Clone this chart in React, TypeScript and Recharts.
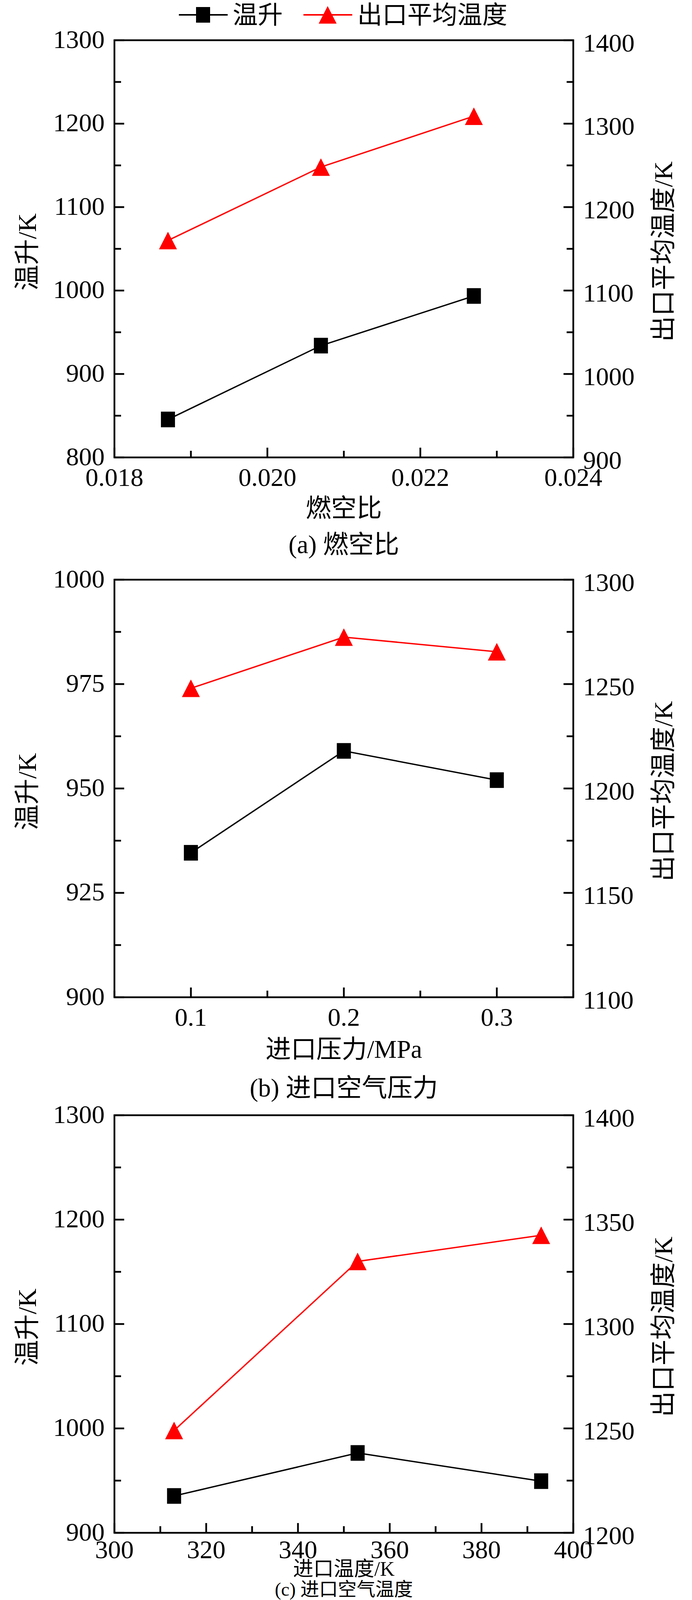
import React from 'react';
import { LineChart, Line, XAxis, YAxis, ReferenceArea, Legend } from 'recharts';

// ---------------- data ----------------
const seriesRise = '温升';
const seriesOutlet = '出口平均温度';
const legendOrder = ['rise', 'outlet'];

// (a) fuel-air ratio
const fuelAirRatio = [0.0187, 0.0207, 0.0227];
const riseA = [845.5, 934, 993.5];
const outletA = [1160, 1248, 1309];

// (b) inlet pressure
const inletPressure = [0.1, 0.2, 0.3];
const riseB = [934.6, 959, 952];
const outletB = [1248, 1272.5, 1265.5];

// (c) inlet temperature
const inletTemp = [313, 353, 393];
const riseC = [935.3, 976.5, 949.5];
const outletC = [1249, 1330, 1342.5];

// ---------------- ticks ----------------
const xTicksA = [0.018, 0.019, 0.02, 0.021, 0.022, 0.023, 0.024];
const xLabelsA = [0.018, 0.02, 0.022, 0.024];
const lTicksA = [800, 850, 900, 950, 1000, 1050, 1100, 1150, 1200, 1250, 1300];
const lLabelsA = [800, 900, 1000, 1100, 1200, 1300];
const rTicksA = [900, 950, 1000, 1050, 1100, 1150, 1200, 1250, 1300, 1350, 1400];
const rLabelsA = [900, 1000, 1100, 1200, 1300, 1400];

const xTicksB = [0.05, 0.1, 0.15, 0.2, 0.25, 0.3, 0.35];
const xLabelsB = [0.1, 0.2, 0.3];
const lTicksB = [900, 912.5, 925, 937.5, 950, 962.5, 975, 987.5, 1000];
const lLabelsB = [900, 925, 950, 975, 1000];
const rTicksB = [1100, 1125, 1150, 1175, 1200, 1225, 1250, 1275, 1300];
const rLabelsB = [1100, 1150, 1200, 1250, 1300];

const xTicksC = [300, 310, 320, 330, 340, 350, 360, 370, 380, 390, 400];
const xLabelsC = [300, 320, 340, 360, 380, 400];
const lTicksC = [900, 950, 1000, 1050, 1100, 1150, 1200, 1250, 1300];
const lLabelsC = [900, 1000, 1100, 1200, 1300];
const rTicksC = [1200, 1225, 1250, 1275, 1300, 1325, 1350, 1375, 1400];
const rLabelsC = [1200, 1250, 1300, 1350, 1400];

// ---------------- styles ----------------
const W = 1772;
const PLOT_LEFT = 293;
const PLOT_RIGHT = 1468;
const SERIF = "'Liberation Serif', 'Times New Roman', serif";
const MIXED = "'Liberation Serif', 'Noto Sans CJK SC', serif";
const TICK_FONT = 66;
const ROT_FONT = 66;
const LEGEND_FONT = 64;
const MAJOR = 25;
const MINOR = 17;
const TICK_W = 4.5;
const RED = '#ff0000';

const isIn = (arr: number[], v: number) => arr.some((a) => Math.abs(a - v) < 1e-9);

function makeLeftTick(labels: number[]) {
  return (props: any) => {
    const { x, y, payload, index } = props;
    const major = isIn(labels, payload.value);
    return (
      <g key={`lt-${index}`}>
        <line x1={x} x2={x + (major ? MAJOR : MINOR)} y1={y} y2={y} stroke="#000" strokeWidth={TICK_W} />
        {major && (
          <text x={x - 25} y={y - 3} textAnchor="end" dominantBaseline="central" fontFamily={SERIF} fontSize={TICK_FONT} fill="#000">
            {String(payload.value)}
          </text>
        )}
      </g>
    );
  };
}

function makeRightTick(labels: number[]) {
  return (props: any) => {
    const { x, y, payload, index } = props;
    const major = isIn(labels, payload.value);
    return (
      <g key={`rt-${index}`}>
        <line x1={x} x2={x - (major ? MAJOR : MINOR)} y1={y} y2={y} stroke="#000" strokeWidth={TICK_W} />
        {major && (
          <text x={x + 25} y={y + 6} textAnchor="start" dominantBaseline="central" fontFamily={SERIF} fontSize={TICK_FONT} fill="#000">
            {String(payload.value)}
          </text>
        )}
      </g>
    );
  };
}

function makeBottomTick(labels: number[], fmt: (v: number) => string, offset: number) {
  return (props: any) => {
    const { x, y, payload, index } = props;
    const major = isIn(labels, payload.value);
    return (
      <g key={`bt-${index}`}>
        <line x1={x} x2={x} y1={y} y2={y - (major ? MAJOR : MINOR)} stroke="#000" strokeWidth={TICK_W} />
        {major && (
          <text x={x} y={y + offset} textAnchor="middle" dominantBaseline="central" fontFamily={SERIF} fontSize={TICK_FONT} fill="#000">
            {fmt(payload.value)}
          </text>
        )}
      </g>
    );
  };
}

const SquareDot = (p: any) => {
  if (p.cx == null || p.cy == null) return <g key={`sq-${p.index}`} />;
  return <rect key={`sq-${p.index}`} x={p.cx - 18} y={p.cy - 20} width={36} height={40} fill="#000" />;
};

const TriDot = (p: any) => {
  if (p.cx == null || p.cy == null) return <g key={`tr-${p.index}`} />;
  const { cx, cy } = p;
  return (
    <polygon
      key={`tr-${p.index}`}
      points={`${cx},${cy - 22.5} ${cx - 23},${cy + 22.5} ${cx + 23},${cy + 22.5}`}
      fill={RED}
    />
  );
};

const renderLegend = (props: any) => {
  const payload = [...(props.payload || [])].sort(
    (a: any, b: any) => legendOrder.indexOf(String(a.dataKey)) - legendOrder.indexOf(String(b.dataKey))
  );
  let x = 458;
  const cy = 38;
  const items: React.ReactNode[] = [];
  payload.forEach((item: any, i: number) => {
    const name = String(item.value);
    const isRise = String(item.dataKey) === 'rise';
    const color = item.color || (isRise ? '#000' : RED);
    const mx = x + 62;
    items.push(
      <g key={`lg-${i}`}>
        <line x1={x} x2={x + 125} y1={cy} y2={cy} stroke={color} strokeWidth={4} />
        {isRise ? (
          <rect x={mx - 18} y={cy - 20} width={36} height={40} fill="#000" />
        ) : (
          <polygon points={`${mx},${cy - 22.5} ${mx - 23},${cy + 22.5} ${mx + 23},${cy + 22.5}`} fill={RED} />
        )}
        <text x={x + 138} y={cy} dominantBaseline="central" fontFamily={MIXED} fontSize={LEGEND_FONT} fill="#000">
          {name}
        </text>
      </g>
    );
    x = x + 138 + name.length * LEGEND_FONT + 53;
  });
  return (
    <svg width={W} height={80} style={{ display: 'block' }}>
      {items}
    </svg>
  );
};

type PanelCfg = {
  top: number;
  height: number;
  plotTop: number;
  plotBottom: number;
  xs: number[];
  rise: number[];
  outlet: number[];
  xDomain: [number, number];
  xTicks: number[];
  xLabels: number[];
  xFmt: (v: number) => string;
  xTickOffset: number;
  lDomain: [number, number];
  lTicks: number[];
  lLabels: number[];
  rDomain: [number, number];
  rTicks: number[];
  rLabels: number[];
  xTitle: string;
  xTitleOffset: number;
  xTitleFont: number;
  caption: string;
  captionOffset: number;
  captionFont: number;
  legend: boolean;
};

function Panel({ cfg }: { cfg: PanelCfg }) {
  const data = cfg.xs.map((x, i) => ({ x, rise: cfg.rise[i], outlet: cfg.outlet[i] }));
  // axes have 1px width/height so that they render; compensate in margins
  const margin = {
    top: cfg.plotTop,
    bottom: cfg.height - cfg.plotBottom - 1,
    left: PLOT_LEFT - 1,
    right: W - PLOT_RIGHT - 1,
  };

  const xLabel = (p: any) => {
    const vb = p.viewBox || {};
    const cx = vb.x + vb.width / 2;
    const y0 = vb.y;
    return (
      <g>
        <text x={cx} y={y0 + cfg.xTitleOffset} textAnchor="middle" dominantBaseline="central" fontFamily={MIXED} fontSize={cfg.xTitleFont} fill="#000">
          {cfg.xTitle}
        </text>
        <text x={cx} y={y0 + cfg.captionOffset} textAnchor="middle" dominantBaseline="central" fontFamily={MIXED} fontSize={cfg.captionFont} fill="#000">
          {cfg.caption}
        </text>
      </g>
    );
  };

  const leftLabel = (p: any) => {
    const vb = p.viewBox || {};
    const cx = vb.x + vb.width - 224;
    const cy = vb.y + vb.height / 2 + 8;
    return (
      <text x={cx} y={cy} transform={`rotate(-90, ${cx}, ${cy})`} textAnchor="middle" dominantBaseline="central" fontFamily={MIXED} fontSize={ROT_FONT} fill="#000">
        温升/K
      </text>
    );
  };

  const rightLabel = (p: any) => {
    const vb = p.viewBox || {};
    const cx = vb.x + 230;
    const cy = vb.y + vb.height / 2 + 7;
    return (
      <text x={cx} y={cy} transform={`rotate(-90, ${cx}, ${cy})`} textAnchor="middle" dominantBaseline="central" fontFamily={MIXED} fontSize={ROT_FONT} fill="#000">
        出口平均温度/K
      </text>
    );
  };

  return (
    <div style={{ position: 'absolute', left: 0, top: cfg.top, width: W, height: cfg.height }}>
      <LineChart width={W} height={cfg.height} data={data} margin={margin}>
        <XAxis
          dataKey="x"
          type="number"
          domain={cfg.xDomain}
          ticks={cfg.xTicks}
          interval={0}
          allowDataOverflow
          height={1}
          tickSize={0}
          tickMargin={0}
          tickLine={false}
          axisLine={false}
          tick={makeBottomTick(cfg.xLabels, cfg.xFmt, cfg.xTickOffset)}
          label={{ content: xLabel }}
        />
        <YAxis
          yAxisId="left"
          orientation="left"
          type="number"
          domain={cfg.lDomain}
          ticks={cfg.lTicks}
          interval={0}
          allowDataOverflow
          width={1}
          tickSize={0}
          tickMargin={0}
          tickLine={false}
          axisLine={false}
          tick={makeLeftTick(cfg.lLabels)}
          label={{ content: leftLabel }}
        />
        <YAxis
          yAxisId="right"
          orientation="right"
          type="number"
          domain={cfg.rDomain}
          ticks={cfg.rTicks}
          interval={0}
          allowDataOverflow
          width={1}
          tickSize={0}
          tickMargin={0}
          tickLine={false}
          axisLine={false}
          tick={makeRightTick(cfg.rLabels)}
          label={{ content: rightLabel }}
        />
        <ReferenceArea
          yAxisId="left"
          x1={cfg.xDomain[0]}
          x2={cfg.xDomain[1]}
          y1={cfg.lDomain[0]}
          y2={cfg.lDomain[1]}
          fill="none"
          fillOpacity={0}
          stroke="#000"
          strokeWidth={4.5}
          ifOverflow="visible"
        />
        {cfg.legend && (
          <Legend
            layout="horizontal"
            verticalAlign="middle"
            align="center"
            itemSorter={null as any}
            wrapperStyle={{ top: 0, left: 0, width: W, height: 80 }}
            content={renderLegend}
          />
        )}
        <Line
          yAxisId="left"
          type="linear"
          dataKey="rise"
          name={seriesRise}
          stroke="#000"
          strokeWidth={3.5}
          dot={SquareDot}
          activeDot={false}
          isAnimationActive={false}
        />
        <Line
          yAxisId="right"
          type="linear"
          dataKey="outlet"
          name={seriesOutlet}
          stroke={RED}
          strokeWidth={3.5}
          dot={TriDot}
          activeDot={false}
          isAnimationActive={false}
        />
      </LineChart>
    </div>
  );
}

const panelA: PanelCfg = {
  top: 0,
  height: 1450,
  plotTop: 103,
  plotBottom: 1171,
  xs: fuelAirRatio,
  rise: riseA,
  outlet: outletA,
  xDomain: [0.018, 0.024],
  xTicks: xTicksA,
  xLabels: xLabelsA,
  xFmt: (v) => v.toFixed(3),
  xTickOffset: 50,
  lDomain: [800, 1300],
  lTicks: lTicksA,
  lLabels: lLabelsA,
  rDomain: [900, 1400],
  rTicks: rTicksA,
  rLabels: rLabelsA,
  xTitle: '燃空比',
  xTitleOffset: 130,
  xTitleFont: 65,
  caption: '(a) 燃空比',
  captionOffset: 223,
  captionFont: 65,
  legend: true,
};

const panelB: PanelCfg = {
  top: 1410,
  height: 1440,
  plotTop: 74,
  plotBottom: 1143,
  xs: inletPressure,
  rise: riseB,
  outlet: outletB,
  xDomain: [0.05, 0.35],
  xTicks: xTicksB,
  xLabels: xLabelsB,
  xFmt: (v) => v.toFixed(1),
  xTickOffset: 50,
  lDomain: [900, 1000],
  lTicks: lTicksB,
  lLabels: lLabelsB,
  rDomain: [1100, 1300],
  rTicks: rTicksB,
  rLabels: rLabelsB,
  xTitle: '进口压力/MPa',
  xTitleOffset: 133,
  xTitleFont: 65,
  caption: '(b) 进口空气压力',
  captionOffset: 232,
  captionFont: 65,
  legend: false,
};

const panelC: PanelCfg = {
  top: 2800,
  height: 1383,
  plotTop: 55,
  plotBottom: 1124,
  xs: inletTemp,
  rise: riseC,
  outlet: outletC,
  xDomain: [300, 400],
  xTicks: xTicksC,
  xLabels: xLabelsC,
  xFmt: (v) => String(v),
  xTickOffset: 42,
  lDomain: [900, 1300],
  lTicks: lTicksC,
  lLabels: lLabelsC,
  rDomain: [1200, 1400],
  rTicks: rTicksC,
  rLabels: rLabelsC,
  xTitle: '进口温度/K',
  xTitleOffset: 92,
  xTitleFont: 52,
  caption: '(c) 进口空气温度',
  captionOffset: 144,
  captionFont: 48,
  legend: false,
};

export default function App() {
  return (
    <div style={{ position: 'absolute', left: 0, top: 0, width: W, height: 4183, background: '#fff', overflow: 'hidden' }}>
      <Panel cfg={panelA} />
      <Panel cfg={panelB} />
      <Panel cfg={panelC} />
    </div>
  );
}
